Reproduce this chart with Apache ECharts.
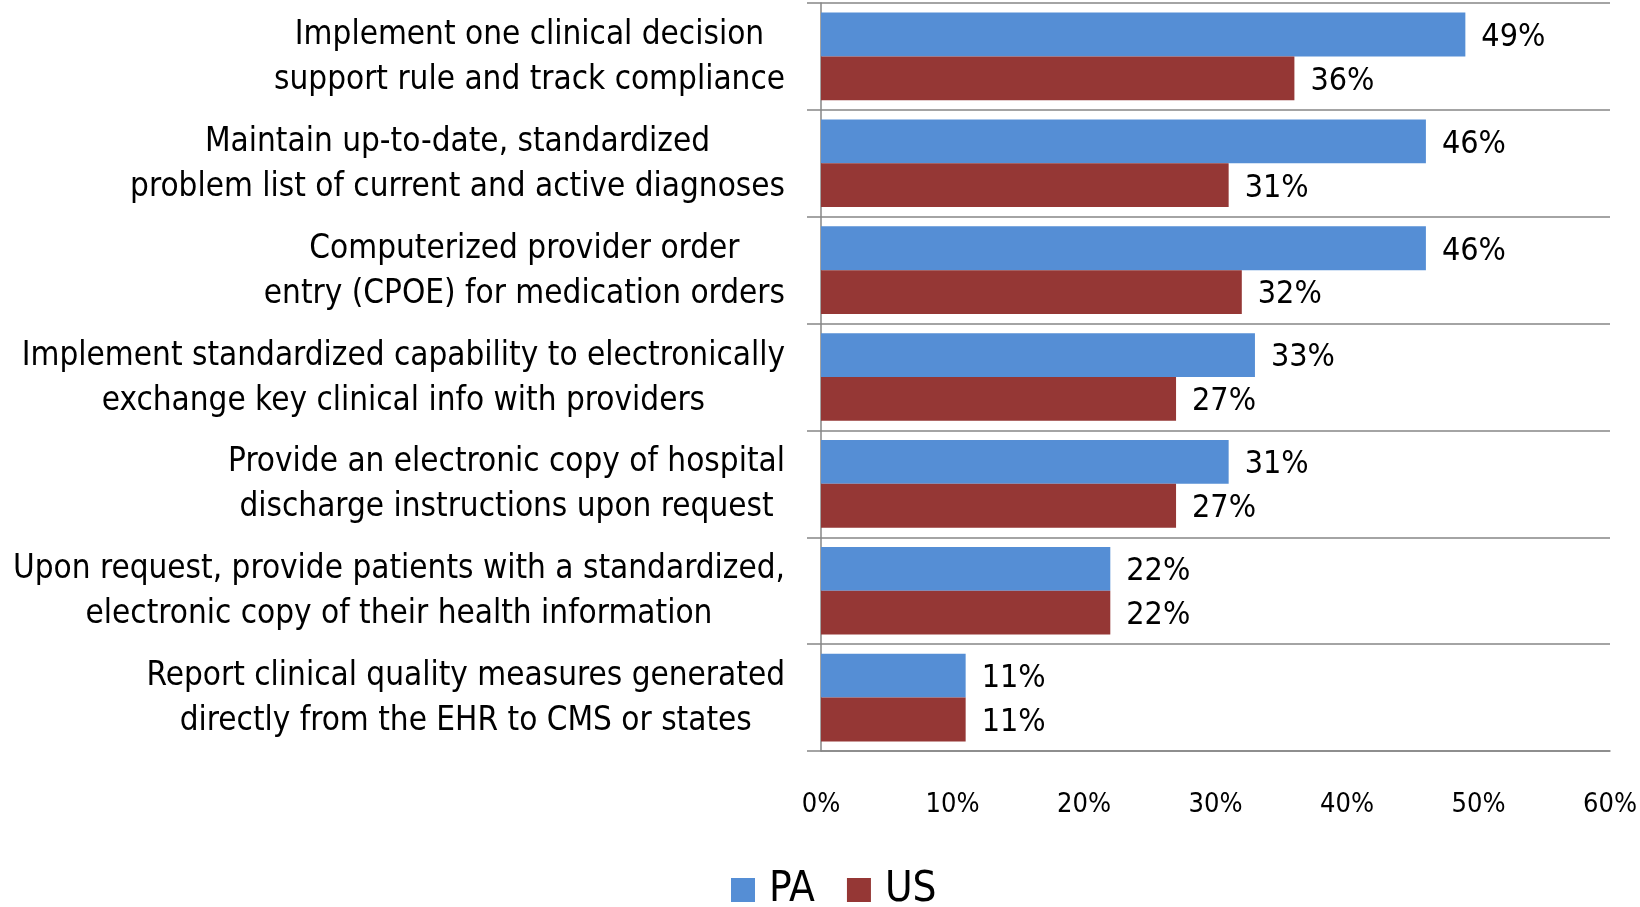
<!DOCTYPE html>
<html>
<head>
    <meta charset="utf-8" />
    <title>Meaningful use measures</title>
    <script type="text/javascript" src="https://cdn.jsdelivr.net/npm/echarts@6/dist/echarts.min.js"></script>
    <style>
        html, body { margin: 0; padding: 0; background: #fff; }
        #chart { width: 1640px; height: 907px; }
    </style>
</head>
<body>
    <div id="chart"></div>
    <script type="text/javascript">
        // categories, top to bottom
        var categories = [
            'Implement one clinical decision\nsupport rule and track compliance',
            'Maintain up-to-date, standardized\nproblem list of current and active diagnoses',
            'Computerized provider order\nentry (CPOE) for medication orders',
            'Implement standardized capability to electronically\nexchange key clinical info with providers',
            'Provide an electronic copy of hospital\ndischarge instructions upon request',
            'Upon request, provide patients with a standardized,\nelectronic copy of their health information',
            'Report clinical quality measures generated\ndirectly from the EHR to CMS or states'
        ];
        var paValues = [49, 46, 46, 33, 31, 22, 11];
        var usValues = [36, 31, 32, 27, 27, 22, 11];
        var xTicks = [0, 10, 20, 30, 40, 50, 60];

        var font = "'DejaVu Sans Condensed', 'Liberation Sans Narrow', sans-serif";
        var chart = echarts.init(document.getElementById('chart'));

        var valueLabel = {
            show: true, position: 'right', distance: 16, offset: [0, 3],
            fontSize: 32, color: '#000', fontFamily: font, formatter: '{c}%'
        };

        var option = {
            animation: false,
            textStyle: { fontFamily: font },
            grid: { left: 821, right: 29, top: 3, bottom: 156 },
            legend: {
                top: 864,
                left: 726,
                itemWidth: 24,
                itemHeight: 24,
                itemGap: 32,
                icon: 'rect',
                textStyle: { fontSize: 42, color: '#000', fontFamily: font, padding: [0, 0, 0, 9] },
                data: ['PA', 'US']
            },
            xAxis: {
                type: 'value',
                min: xTicks[0],
                max: xTicks[xTicks.length - 1],
                interval: 10,
                axisLine: { show: true, lineStyle: { color: '#868686', width: 1.5 } },
                axisTick: { show: false },
                splitLine: { show: false },
                axisLabel: {
                    margin: 40,
                    fontSize: 27,
                    color: '#000',
                    fontFamily: font,
                    formatter: '{value}%'
                }
            },
            yAxis: {
                type: 'category',
                inverse: true,
                data: categories,
                axisLine: { show: true, lineStyle: { color: '#868686', width: 1.5 } },
                axisTick: { show: true, length: 14, lineStyle: { color: '#868686', width: 1.5 } },
                splitLine: { show: true, lineStyle: { color: '#868686', width: 1.5 } },
                axisLabel: {
                    margin: 36,
                    color: '#000',
                    fontSize: 33,
                    lineHeight: 45,
                    fontFamily: font,
                    padding: [3, 0, 0, 0],
                    formatter: function (v) {
                        return v.split('\n').map(function (s) { return '{c|' + s + '}'; }).join('\n');
                    },
                    rich: {
                        c: { align: 'center', fontSize: 33, lineHeight: 45, color: '#000', fontFamily: font }
                    }
                }
            },
            series: [
                {
                    name: 'PA',
                    type: 'bar',
                    data: paValues,
                    barGap: '0%',
                    barCategoryGap: '18%',
                    itemStyle: { color: '#558ED5' },
                    label: valueLabel
                },
                {
                    name: 'US',
                    type: 'bar',
                    data: usValues,
                    barGap: '0%',
                    barCategoryGap: '18%',
                    itemStyle: { color: '#953735' },
                    label: valueLabel
                }
            ]
        };
        chart.setOption(option);
    </script>
</body>
</html>
